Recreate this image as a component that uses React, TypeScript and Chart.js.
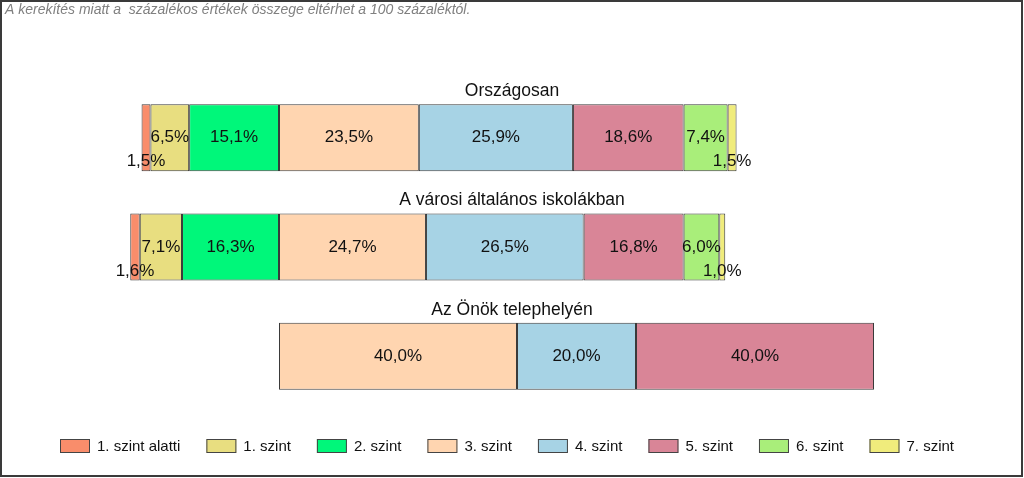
import React, { useEffect, useRef } from 'react';
import { Chart, registerables } from 'chart.js';

Chart.register(...registerables);

const categories = ['Országosan', 'A városi általános iskolákban', 'Az Önök telephelyén'];
const levels = ['1. szint alatti', '1. szint', '2. szint', '3. szint', '4. szint', '5. szint', '6. szint', '7. szint'];
const belowLevel1 = [1.5, 1.6, 0];
const level1 = [6.5, 7.1, 0];
const level2 = [15.1, 16.3, 0];
const level3 = [23.5, 24.7, 40.0];
const level4 = [25.9, 26.5, 20.0];
const level5 = [18.6, 16.8, 40.0];
const level6 = [7.4, 6.0, 0];
const level7 = [1.5, 1.0, 0];
const colors = ['#F98D6B', '#E8DE80', '#00F77A', '#FFD5B0', '#A7D3E5', '#D98597', '#A9EE7A', '#F0EC7C'];
const note = 'A kerekítés miatt a  százalékos értékek összege eltérhet a 100 százaléktól.';

const FONT = '"Liberation Sans", Arial, sans-serif';

const series = [belowLevel1, level1, level2, level3, level4, level5, level6, level7];

function fmt(v: number) {
  return v.toFixed(1).replace('.', ',') + '%';
}

const overlay = {
  id: 'overlay',
  afterDraw(chart: any) {
    const ctx = chart.ctx as CanvasRenderingContext2D;
    const W = chart.width;
    ctx.save();
    // frame
    ctx.strokeStyle = '#3a3a3a';
    ctx.lineWidth = 2;
    ctx.strokeRect(1, 1, 1021, 475);
    // note
    ctx.font = `italic 14px ${FONT}`;
    ctx.fillStyle = '#808080';
    ctx.textAlign = 'left';
    ctx.textBaseline = 'middle';
    ctx.fillText(note, 5, 10);

    // value labels
    ctx.fillStyle = '#111';
    ctx.font = `17px ${FONT}`;
    ctx.textAlign = 'center';
    chart.data.datasets.forEach((ds: any, di: number) => {
      const meta = chart.getDatasetMeta(di);
      meta.data.forEach((el: any, ci: number) => {
        const v = series[di][ci];
        if (!v) return;
        const cx = (el.x + el.base) / 2;
        const cy = v < 2 ? el.y + 24 : el.y;
        ctx.fillText(fmt(v), cx, cy);
      });
    });

    // category titles
    ctx.font = `17.5px ${FONT}`;
    const meta3 = chart.getDatasetMeta(3);
    categories.forEach((c, ci) => {
      const el: any = meta3.data[ci];
      const top = el.y - el.height / 2;
      ctx.fillText(c, W / 2, top - 13);
    });

    // legend
    ctx.font = `15px ${FONT}`;
    ctx.textAlign = 'left';
    let x = 60;
    const yBox = 439;
    levels.forEach((l, i) => {
      ctx.fillStyle = colors[i];
      ctx.fillRect(x, yBox, 30, 14);
      ctx.strokeStyle = '#444';
      ctx.lineWidth = 1;
      ctx.strokeRect(x + 0.5, yBox + 0.5, 29, 13);
      ctx.fillStyle = '#111';
      ctx.fillText(l, x + 37, yBox + 7.5);
      x += 30 + 7 + ctx.measureText(l).width + 26;
    });
    ctx.restore();
  },
};

export default function App() {
  const ref = useRef<HTMLCanvasElement | null>(null);
  useEffect(() => {
    if (!ref.current) return;
    const datasets = series.map((vals, si) => ({
      label: levels[si],
      data: vals.map((v, ci) => {
        if (!v) return null;
        const leftTotal = belowLevel1[ci] + level1[ci] + level2[ci];
        let start = -leftTotal;
        for (let k = 0; k < si; k++) start += series[k][ci];
        return [start, start + v];
      }),
      backgroundColor: colors[si],
      borderColor: '#3a3a3a',
      borderWidth: 1,
      borderSkipped: false,
      grouped: false,
      barPercentage: 0.613,
      categoryPercentage: 1,
    }));
    const chart = new Chart(ref.current, {
      type: 'bar',
      data: { labels: categories, datasets: datasets as any },
      options: {
        indexAxis: 'y',
        responsive: false,
        animation: false,
        devicePixelRatio: 1,
        layout: { padding: { left: 41, right: 150, top: 83, bottom: 67 } },
        scales: {
          x: { type: 'linear', min: -40, max: 100, display: false },
          y: { type: 'category', display: false },
        },
        plugins: {
          legend: { display: false },
          tooltip: { enabled: false },
          title: { display: false },
        },
      },
      plugins: [overlay],
    });
    return () => chart.destroy();
  }, []);
  return (
    <div style={{ position: 'fixed', left: 0, top: 0, width: 1024, height: 478, background: '#fff' }}>
      <canvas ref={ref} width={1024} height={478} style={{ width: 1024, height: 478, display: 'block' }} />
    </div>
  );
}
